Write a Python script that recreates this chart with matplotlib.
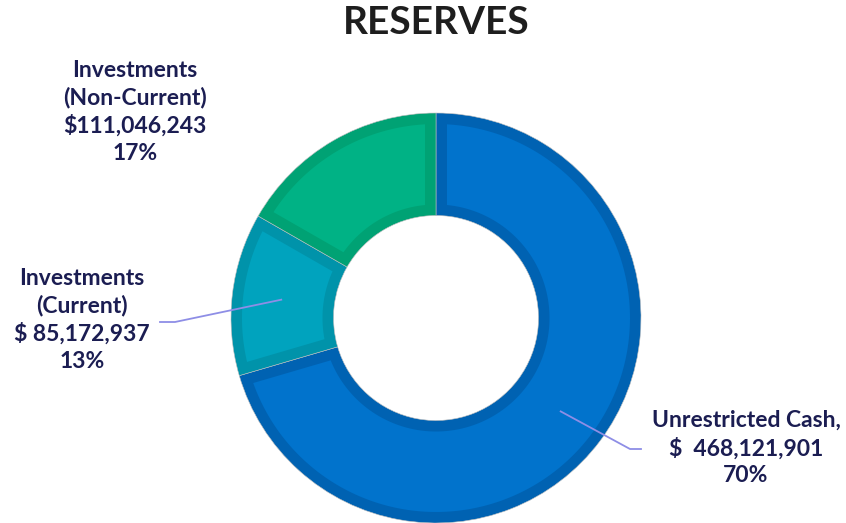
import numpy as np
from matplotlib import pyplot as plt
from matplotlib.patches import Polygon

plt.rcParams['font.family'] = ['Lato', 'DejaVu Sans']

labels = ['Unrestricted Cash,', 'Investments\n(Current)', 'Investments\n(Non-Current)']
values = [468121901, 85172937, 111046243]
money = ['$  468,121,901', '$ 85,172,937', '$111,046,243']
fills = ['#0173CC', '#00A3BE', '#00B285']
edges = ['#0062B2', '#0093AA', '#00A274']

text_col = '#1B1D52'
line_col = '#8E8EE6'

W, H = 846, 523
fig = plt.figure(figsize=(W / 100, H / 100), dpi=100)
ax = fig.add_axes([0, 0, 1, 1])

cx, cy, R = 436, H - 318, 205
ring = R * 0.5
border = 11

# dark outer wedges
wedges, _ = ax.pie(values, startangle=90, counterclock=False, colors=edges,
                   radius=R, center=(cx, cy),
                   wedgeprops=dict(width=ring, edgecolor='#bfbfbf', linewidth=0.4))

# lighter inner part of each wedge, inset by the border width
for w, fc in zip(wedges, fills):
    ro, ri = R - border, R - ring + border
    do = np.rad2deg(np.arcsin(border / ro))
    di = np.rad2deg(np.arcsin(border / ri))
    a_out = np.deg2rad(np.linspace(w.theta1 + do, w.theta2 - do, 200))
    a_in = np.deg2rad(np.linspace(w.theta2 - di, w.theta1 + di, 200))
    pts = np.vstack([np.column_stack([cx + ro * np.cos(a_out), cy + ro * np.sin(a_out)]),
                     np.column_stack([cx + ri * np.cos(a_in), cy + ri * np.sin(a_in)])])
    ax.add_patch(Polygon(pts, closed=True, facecolor=fc, edgecolor='none'))

ax.set_xlim(0, W)
ax.set_ylim(0, H)
ax.set_aspect('equal')
ax.axis('off')

total = sum(values)
pct = [f'{round(v / total * 100)}%' for v in values]

# label anchor (pixel coords from top-left) and leader elbow
label_pos = [(746, 423), (82, 281), (135, 73)]
elbows = [((630, 449), (641, 449)), ((175, 322), (160, 322)), None]

for w, lab, m, p, pos, elb in zip(wedges, labels, money, pct, label_pos, elbows):
    txt = f'{lab}\n{m}\n{p}'
    ax.text(pos[0], H - pos[1] + 13, txt, ha='center', va='top', fontsize=16.5,
            fontweight='bold', color=text_col, linespacing=1.33)
    if elb is not None:
        mid = np.deg2rad((w.theta1 + w.theta2) / 2)
        r = R * 0.76
        sx, sy = cx + r * np.cos(mid), cy + r * np.sin(mid)
        xs = [sx, elb[0][0], elb[1][0]]
        ys = [sy, H - elb[0][1], H - elb[1][1]]
        ax.plot(xs, ys, color=line_col, lw=1.3)

fig.text(0.515, 1 - 23 / H, 'RESERVES', ha='center', va='center', fontsize=28,
         fontweight='bold', color='#1E1E1E')

fig.savefig('out.png', dpi=100)
